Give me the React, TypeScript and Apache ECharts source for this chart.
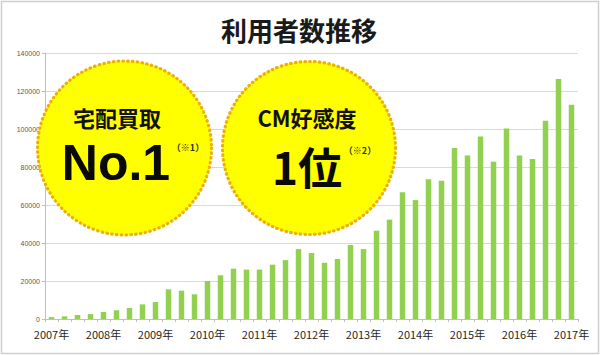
import React, { useEffect, useRef } from "react";
import * as echarts from "echarts";

// Quarterly periods, 2007 Q1 .. 2017 Q1
const years = [2007, 2008, 2009, 2010, 2011, 2012, 2013, 2014, 2015, 2016, 2017];
const periods: string[] = [];
years.forEach((y) => {
  const qs = y === 2017 ? [1] : [1, 2, 3, 4];
  qs.forEach((q) => periods.push(`${y}-Q${q}`));
});

// Users per quarter
const users = [
  1000, 1400, 2100, 2600, 3700, 4600, 5800, 7700, 8900, 15600,
  14900, 13000, 20000, 23000, 26500, 26000, 26000, 28600, 31000, 36800,
  34700, 29600, 31600, 38900, 36800, 46500, 52300, 66700, 62600, 73500,
  72800, 90000, 86000, 96000, 82800, 100200, 86100, 84200, 104400, 126300,
  112800,
];

const yTicks = { min: 0, max: 140000, interval: 20000 };

const title = "利用者数推移";
const badge1 = { head: "宅配買取", main: "No.1", note: "（※1）" };
const badge2 = { head: "CM好感度", main: "1位", note: "（※2）" };

const CJK = '"Noto Sans CJK JP", "Noto Sans", sans-serif';

export default function App() {
  const ref = useRef<HTMLDivElement>(null);
  useEffect(() => {
    if (!ref.current) return;
    const chart = echarts.init(ref.current, undefined, { renderer: "svg" });
    const circleStyle = {
      fill: "#FFFF00",
      stroke: "#EDB100",
      lineWidth: 3.2,
      lineDash: [0.6, 4.2],
      lineCap: "round",
    };
    chart.setOption({
      animation: false,
      backgroundColor: "#ffffff",
      grid: { left: 45, right: 22, top: 53, bottom: 36, containLabel: false },
      xAxis: {
        type: "category",
        data: periods,
        boundaryGap: true,
        axisLine: { show: true, lineStyle: { color: "#bfbfbf", width: 1 } },
        axisTick: { show: true, interval: 0, length: 3, lineStyle: { color: "#bfbfbf" } },
        axisLabel: {
          interval: 0,
          margin: 9,
          fontSize: 11,
          color: "#262626",
          fontFamily: CJK,
          formatter: (v: string) => (v.endsWith("Q1") ? v.slice(0, 4) + "年" : ""),
        },
      },
      yAxis: {
        type: "value",
        min: yTicks.min,
        max: yTicks.max,
        interval: yTicks.interval,
        axisLine: { show: true, lineStyle: { color: "#bfbfbf", width: 1 } },
        axisTick: { show: true, length: 3, lineStyle: { color: "#bfbfbf" } },
        axisLabel: {
          fontSize: 7,
          color: "#595959",
          margin: 5,
          fontFamily: "Liberation Sans, Arial, sans-serif",
          formatter: (v: number) => String(v),
        },
        splitLine: { show: true, lineStyle: { color: "#d9d9d9", width: 1 } },
      },
      series: [
        {
          type: "bar",
          data: users,
          barWidth: 5.5,
          itemStyle: { color: "#92D050" },
        },
      ],
      graphic: [
        {
          type: "rect",
          shape: { x: 1.5, y: 1.5, width: 597, height: 352 },
          style: { fill: "none", stroke: "#cfcfcf", lineWidth: 1.5 },
          z: 100,
        },
        {
          type: "text",
          x: 299,
          y: 29,
          style: {
            text: title,
            fontSize: 26,
            fontWeight: "bold",
            fontFamily: CJK,
            fill: "#1a1a1a",
            textAlign: "center",
            textVerticalAlign: "middle",
          },
          z: 100,
        },
        { type: "circle", shape: { cx: 124.5, cy: 148, r: 87 }, style: circleStyle, z: 100 },
        { type: "circle", shape: { cx: 309, cy: 148, r: 86.5 }, style: circleStyle, z: 100 },
        {
          type: "text",
          x: 117,
          y: 117,
          style: {
            text: badge1.head, fontSize: 22, fontWeight: "bold", fontFamily: CJK, fill: "#111",
            textAlign: "center", textVerticalAlign: "middle",
          },
          z: 101,
        },
        {
          type: "text",
          x: 116,
          y: 163,
          style: {
            text: badge1.main, fontSize: 50, fontWeight: "bold",
            fontFamily: '"Liberation Sans", Arial, sans-serif', fill: "#0a0a0a",
            textAlign: "center", textVerticalAlign: "middle",
          },
          z: 101,
        },
        {
          type: "text",
          x: 188,
          y: 147,
          style: {
            text: badge1.note, fontSize: 9, fontWeight: "bold", fontFamily: CJK, fill: "#333",
            textAlign: "center", textVerticalAlign: "middle",
          },
          z: 101,
        },
        {
          type: "text",
          x: 307,
          y: 117,
          style: {
            text: badge2.head, fontSize: 22, fontWeight: "bold", fontFamily: CJK, fill: "#111",
            textAlign: "center", textVerticalAlign: "middle",
          },
          z: 101,
        },
        {
          type: "text",
          x: 307,
          y: 166,
          style: {
            text: badge2.main, fontSize: 44, fontWeight: "bold", fontFamily: CJK, fill: "#0a0a0a",
            textAlign: "center", textVerticalAlign: "middle",
          },
          z: 101,
        },
        {
          type: "text",
          x: 360,
          y: 150,
          style: {
            text: badge2.note, fontSize: 9, fontWeight: "bold", fontFamily: CJK, fill: "#333",
            textAlign: "center", textVerticalAlign: "middle",
          },
          z: 101,
        },
      ],
    });
    return () => chart.dispose();
  }, []);
  return (
    <div
      ref={ref}
      style={{ position: "fixed", left: 0, top: 0, width: 600, height: 355 }}
    />
  );
}
